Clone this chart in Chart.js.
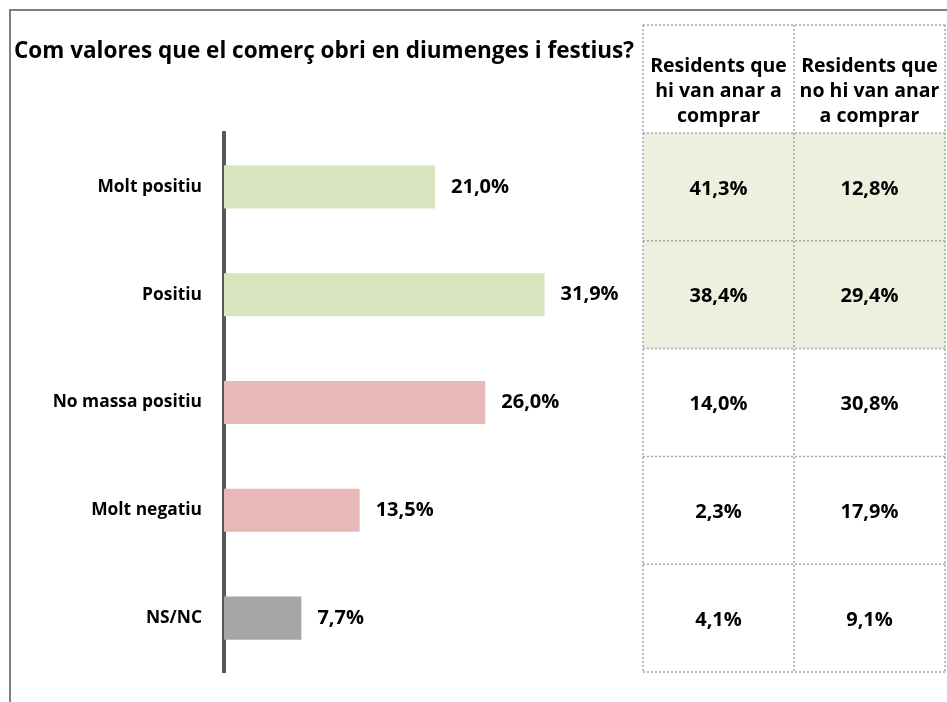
<!DOCTYPE html>
<html>
<head>
<meta charset="utf-8">
<script src="https://cdn.jsdelivr.net/npm/chart.js@4"></script>
<style>
  html, body { margin: 0; padding: 0; background: #fff; }
  #wrap { width: 947px; height: 702px; }
</style>
</head>
<body>
<div id="wrap"><canvas id="chart" width="947" height="702"></canvas></div>
<script>
const titleText = 'Com valores que el comerç obri en diumenges i festius?';
const categories = ['Molt positiu', 'Positiu', 'No massa positiu', 'Molt negatiu', 'NS/NC'];
const totalValues = [21.0, 31.9, 26.0, 13.5, 7.7];
const columnHeaders = [
  ['Residents que', 'hi van anar a', 'comprar'],
  ['Residents que', 'no hi van anar', 'a comprar']
];
const boughtValues = [41.3, 38.4, 14.0, 2.3, 4.1];
const notBoughtValues = [12.8, 29.4, 30.8, 17.9, 9.1];

const fontFamily = '"Open Sans", sans-serif';
const barColors = ['#d7e4bd', '#d7e4bd', '#e6b9b8', '#e6b9b8', '#a6a6a6'];
const rowFills = ['#ebf1de', '#ebf1de', null, null, null];

const fmt = (v) => v.toFixed(1).replace('.', ',') + '%';

// frame, title, value labels and the side table
const extrasPlugin = {
  id: 'extras',
  beforeDraw(chart) {
    const { ctx } = chart;
    ctx.save();
    ctx.fillStyle = '#fff';
    ctx.fillRect(0, 0, chart.width, chart.height);
    ctx.strokeStyle = '#808080';
    ctx.lineWidth = 2;
    ctx.strokeRect(10, 10, chart.width, chart.height);
    ctx.restore();
  },
  afterDraw(chart) {
    const { ctx } = chart;
    const y = chart.scales.y;
    const meta = chart.getDatasetMeta(0);

    ctx.save();
    ctx.fillStyle = '#000';
    ctx.font = `bold 22.5px ${fontFamily}`;
    ctx.textAlign = 'left';
    ctx.textBaseline = 'alphabetic';
    ctx.fillText(titleText, 14, 58);

    ctx.font = `bold 20px ${fontFamily}`;
    ctx.textBaseline = 'middle';
    meta.data.forEach((bar, i) => {
      ctx.fillText(fmt(totalValues[i]), bar.x + 16, bar.y);
    });

    // table
    const cols = [643, 794, 945];
    const band = y.getPixelForValue(1) - y.getPixelForValue(0);
    const top = 25;
    const headBottom = y.getPixelForValue(0) - band / 2;
    const rowEdges = categories.map((c, i) => y.getPixelForValue(i) - band / 2);
    rowEdges.push(y.getPixelForValue(categories.length - 1) + band / 2);

    rowFills.forEach((fill, i) => {
      if (!fill) return;
      ctx.fillStyle = fill;
      ctx.fillRect(cols[0], rowEdges[i], cols[2] - cols[0], rowEdges[i + 1] - rowEdges[i]);
    });

    ctx.fillStyle = '#000';
    ctx.textAlign = 'center';
    ctx.textBaseline = 'alphabetic';
    ctx.font = `bold 19.5px ${fontFamily}`;
    const headBaselines = [72, 97, 122];
    columnHeaders.forEach((lines, c) => {
      const cx = (cols[c] + cols[c + 1]) / 2;
      lines.forEach((line, k) => ctx.fillText(line, cx, headBaselines[k]));
    });

    ctx.font = `bold 20px ${fontFamily}`;
    ctx.textBaseline = 'middle';
    [boughtValues, notBoughtValues].forEach((vals, c) => {
      const cx = (cols[c] + cols[c + 1]) / 2;
      vals.forEach((v, i) => ctx.fillText(fmt(v), cx, y.getPixelForValue(i) + 2));
    });

    ctx.strokeStyle = '#a6a6a6';
    ctx.lineWidth = 1.5;
    ctx.setLineDash([2, 2]);
    ctx.beginPath();
    [top, headBottom, ...rowEdges.slice(1)].forEach((ly) => {
      ctx.moveTo(cols[0], ly);
      ctx.lineTo(cols[2], ly);
    });
    cols.forEach((lx) => {
      ctx.moveTo(lx, top);
      ctx.lineTo(lx, rowEdges[rowEdges.length - 1]);
    });
    ctx.stroke();
    ctx.restore();
  }
};

new Chart(document.getElementById('chart'), {
  type: 'bar',
  data: {
    labels: categories,
    datasets: [{
      data: totalValues,
      backgroundColor: barColors,
      barPercentage: 0.4,
      categoryPercentage: 1.0
    }]
  },
  options: {
    indexAxis: 'y',
    responsive: false,
    animation: false,
    events: [],
    layout: { padding: { left: 0, right: 321, top: 133, bottom: 30 } },
    plugins: {
      legend: { display: false },
      tooltip: { enabled: false },
      title: { display: false }
    },
    scales: {
      x: { display: false, min: 0, max: 40 },
      y: {
        afterFit: (scale) => { scale.width = 224; },
        grid: { display: false },
        border: { display: true, color: '#595959', width: 4 },
        ticks: {
          color: '#000',
          padding: 14,
          font: { family: fontFamily, weight: 'bold', size: 17.4 }
        }
      }
    }
  },
  plugins: [extrasPlugin]
});
</script>
</body>
</html>
